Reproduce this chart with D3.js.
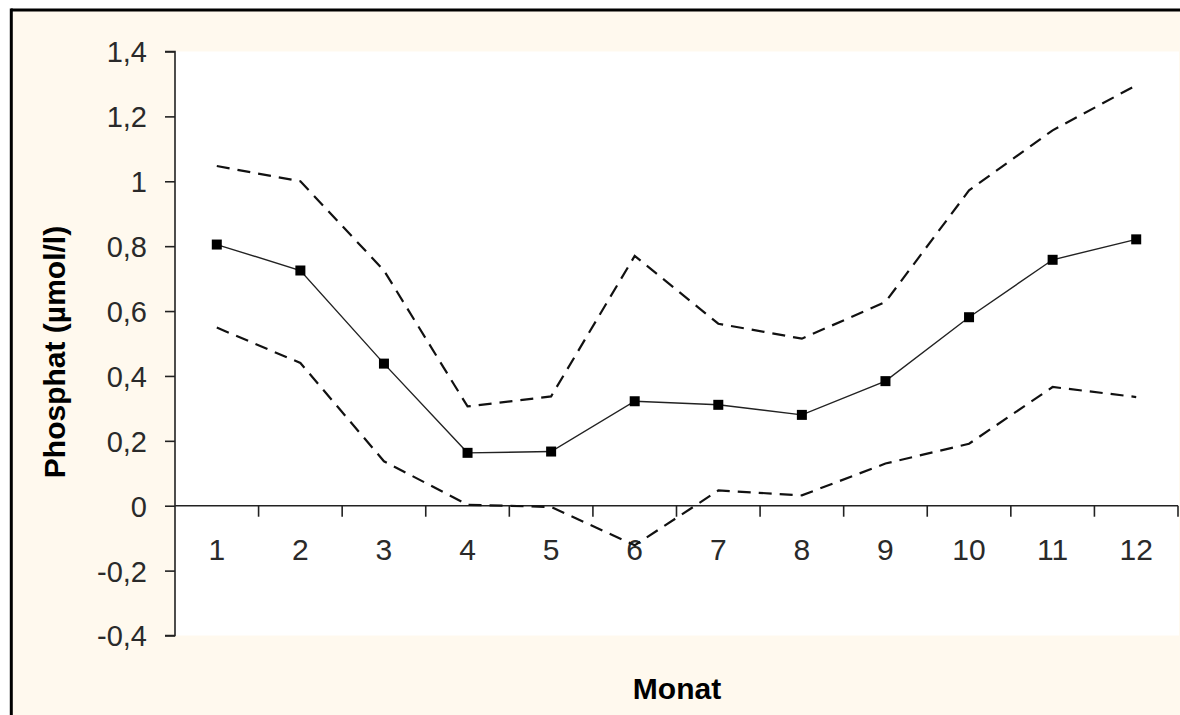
<!DOCTYPE html>
<html>
<head>
<meta charset="utf-8">
<script src="https://cdn.jsdelivr.net/npm/d3@7"></script>
<style>
  html, body { margin: 0; padding: 0; background: #ffffff; }
  svg { display: block; }
</style>
</head>
<body>
<svg id="chart" width="1180" height="715"></svg>
<script>
// Monthly phosphate: mean with upper and lower bounds
const months = ["1", "2", "3", "4", "5", "6", "7", "8", "9", "10", "11", "12"];
const meanValues  = [0.805, 0.725, 0.438, 0.163, 0.167, 0.322, 0.311, 0.280, 0.384, 0.581, 0.758, 0.821];
const upperValues = [1.047, 1.000, 0.725, 0.306, 0.337, 0.770, 0.561, 0.515, 0.628, 0.972, 1.157, 1.296];
const lowerValues = [0.549, 0.440, 0.137, 0.003, -0.004, -0.122, 0.047, 0.032, 0.130, 0.191, 0.366, 0.335];
const yTicks = [-0.4, -0.2, 0, 0.2, 0.4, 0.6, 0.8, 1, 1.2, 1.4];
const xTitle = "Monat";
const yTitle = "Phosphat (µmol/l)";

const svg = d3.select("#chart");
const W = 1180, H = 715;
const plot = { left: 175, right: 1178, top: 51.5, bottom: 635.5 };
const font = "Liberation Sans, Arial, sans-serif";

// frame: cream chart area with a heavy black edge on top and left
svg.append("rect").attr("x", 0).attr("y", 0).attr("width", W).attr("height", H).attr("fill", "#ffffff");
svg.append("rect").attr("x", 11).attr("y", 10).attr("width", W - 11).attr("height", H - 10).attr("fill", "#fff9ee");
svg.append("line").attr("x1", 11).attr("x2", W).attr("y1", 10).attr("y2", 10)
  .attr("stroke", "#000").attr("stroke-width", 3);
svg.append("line").attr("x1", 11.3).attr("x2", 11.3).attr("y1", 8.5).attr("y2", H)
  .attr("stroke", "#000").attr("stroke-width", 3);

// white plot area
svg.append("rect").attr("x", plot.left).attr("y", plot.top)
  .attr("width", plot.right - plot.left + 1).attr("height", plot.bottom - plot.top)
  .attr("fill", "#ffffff");

const x = d3.scaleBand().domain(months).range([plot.left, plot.right]).padding(0);
const y = d3.scaleLinear().domain([-0.4, 1.4]).range([plot.bottom, plot.top]);
const cx = d => x(d) + x.bandwidth() / 2;

// German decimal comma, plain hyphen for negatives, integers without decimals
const fmt = v => {
  const r = Math.round(v * 10) / 10;
  const s = Number.isInteger(r) ? String(Math.abs(r)) : Math.abs(r).toFixed(1).replace(".", ",");
  return (r < 0 ? "-" : "") + s;
};

// y axis
const yAxis = svg.append("g").attr("transform", `translate(${plot.left},0)`)
  .call(d3.axisLeft(y).tickValues(yTicks).tickFormat(fmt).tickSize(10).tickPadding(18));
yAxis.select(".domain").attr("stroke", "#222").attr("stroke-width", 1.6).attr("d", `M-10,${plot.top}H0V${plot.bottom}H-10`);
yAxis.selectAll(".tick line").attr("stroke", "#222").attr("stroke-width", 1.6);
yAxis.selectAll(".tick text")
  .attr("font-family", font).attr("font-size", 29).attr("fill", "#2a2a2a").attr("dy", "0.36em");

// x axis along zero, ticks at category boundaries
const x0 = y(0);
const xAxis = svg.append("g").attr("transform", `translate(0,${x0})`)
  .call(d3.axisBottom(x).tickSize(0).tickPadding(33));
xAxis.select(".domain").attr("stroke", "#222").attr("stroke-width", 1.6).attr("d", `M${plot.left},0H${plot.right}`);
xAxis.selectAll(".tick text")
  .attr("font-family", font).attr("font-size", 30).attr("fill", "#2a2a2a");
xAxis.selectAll(".boundary").data(months).enter().append("line")
  .attr("class", "boundary")
  .attr("x1", d => x(d) + x.bandwidth()).attr("x2", d => x(d) + x.bandwidth())
  .attr("y1", 0).attr("y2", 11)
  .attr("stroke", "#222").attr("stroke-width", 1.6);

// series lines
const line = d3.line().x((d, i) => cx(months[i])).y(d => y(d));

svg.append("path").datum(upperValues).attr("d", line)
  .attr("fill", "none").attr("stroke", "#111").attr("stroke-width", 2.2)
  .attr("stroke-dasharray", "13 8");
svg.append("path").datum(lowerValues).attr("d", line)
  .attr("fill", "none").attr("stroke", "#111").attr("stroke-width", 2.2)
  .attr("stroke-dasharray", "13 8");
svg.append("path").datum(meanValues).attr("d", line)
  .attr("fill", "none").attr("stroke", "#222").attr("stroke-width", 1.4);

svg.selectAll(".marker").data(meanValues).enter().append("rect")
  .attr("class", "marker")
  .attr("x", (d, i) => cx(months[i]) - 5).attr("y", d => y(d) - 5)
  .attr("width", 10).attr("height", 10).attr("fill", "#000");

// axis titles
svg.append("text").attr("x", 677).attr("y", 699).attr("text-anchor", "middle")
  .attr("font-family", font).attr("font-weight", "bold")
  .attr("font-size", 30).attr("fill", "#000").text(xTitle);
svg.append("text").attr("transform", "translate(65,352) rotate(-90)").attr("text-anchor", "middle")
  .attr("font-family", font).attr("font-weight", "bold")
  .attr("font-size", 30).attr("fill", "#000").text(yTitle);
</script>
</body>
</html>
